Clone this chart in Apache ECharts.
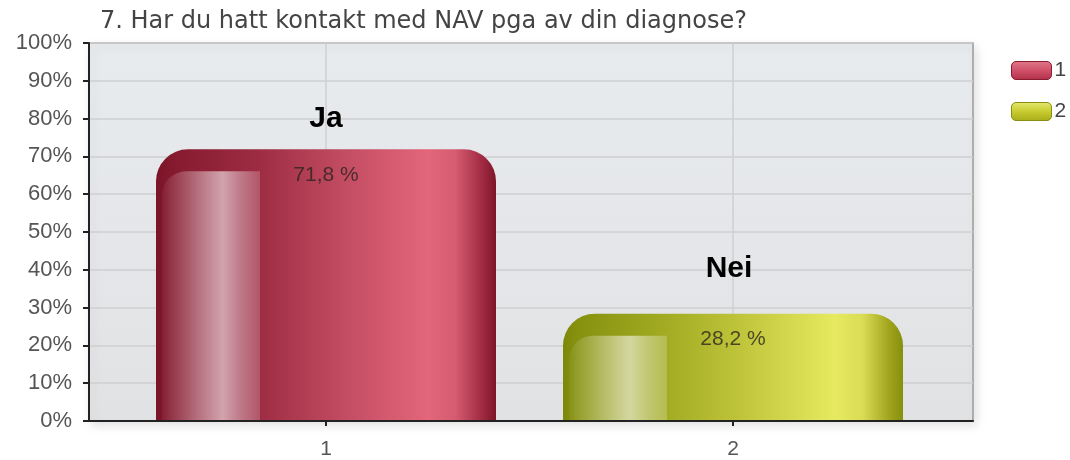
<!DOCTYPE html>
<html>
<head>
<meta charset="utf-8">
<script src="https://cdn.jsdelivr.net/npm/echarts@6/dist/echarts.min.js"></script>
<style>
  html, body { margin: 0; padding: 0; background: #fff; }
  #chart { width: 1070px; height: 460px; }
</style>
</head>
<body>
<div id="chart"></div>
<script>
  // data
  const title = '7. Har du hatt kontakt med NAV pga av din diagnose?';
  const categories = ['1', '2'];
  const values = [71.8, 28.2];
  const answers = ['Ja', 'Nei'];
  const yTicks = [0, 10, 20, 30, 40, 50, 60, 70, 80, 90, 100];

  const font = 'Liberation Sans, Arial, sans-serif';
  const barW = 340;

  // bar fills (left -> right)
  function grad(stops) {
    return new echarts.graphic.LinearGradient(0, 0, 1, 0,
      stops.map(s => ({ offset: s[0], color: s[1] })));
  }
  const fills = [
    grad([[0, '#7a1428'], [0.04, '#84192e'], [0.3, '#9d2c43'], [0.55, '#c24c62'],
          [0.8, '#e3667b'], [0.88, '#d55c71'], [0.96, '#a02a42'], [1, '#7c1629']]),
    grad([[0, '#7d880a'], [0.04, '#86910f'], [0.3, '#a2ab22'], [0.55, '#c3c83e'],
          [0.8, '#e6ea5f'], [0.88, '#dadd55'], [0.96, '#a0a41c'], [1, '#868f0e']])
  ];
  const legendFills = [
    new echarts.graphic.LinearGradient(0, 0, 0, 1, [
      { offset: 0, color: '#e07888' }, { offset: 0.5, color: '#d0506a' }, { offset: 1, color: '#b03048' }]),
    new echarts.graphic.LinearGradient(0, 0, 0, 1, [
      { offset: 0, color: '#e6e870' }, { offset: 0.5, color: '#c8cc30' }, { offset: 1, color: '#a8ac18' }])
  ];
  const answerGap = [16, 30];

  const chart = echarts.init(document.getElementById('chart'));

  const barSeries = categories.map((c, i) => ({
    name: c,
    type: 'bar',
    xAxisIndex: 1,
    yAxisIndex: 1,
    barWidth: barW,
    barGap: '-100%',
    clip: false,
    z: 3,
    data: categories.map((cc, j) => (j === i ? values[j] : '-')),
    itemStyle: {
      color: fills[i],
      borderRadius: [32, 32, 0, 0]
    },
    label: {
      show: true,
      position: 'insideTop',
      distance: 15,
      formatter: p => String(p.value).replace('.', ',') + ' %',
      color: 'rgba(40,35,30,0.78)',
      fontFamily: font,
      fontSize: 21
    }
  }));

  // gloss strip + answer labels
  const glossSeries = {
    type: 'custom',
    xAxisIndex: 1,
    yAxisIndex: 1,
    z: 4,
    silent: true,
    clip: false,
    data: values.map((v, i) => [i, v]),
    renderItem: function (params, api) {
      const i = api.value(0);
      const top = api.coord([i, api.value(1)]);
      const base = api.coord([i, 0]);
      const gx = top[0] - 164;
      const gy = top[1] + 22;
      return {
        type: 'group',
        children: [
          {
            type: 'rect',
            shape: { x: gx, y: gy, width: 98, height: base[1] - gy, r: [24, 0, 0, 0] },
            style: {
              fill: new echarts.graphic.LinearGradient(0, 0, 1, 0, [
                { offset: 0, color: 'rgba(255,255,255,0.04)' },
                { offset: 0.62, color: 'rgba(255,255,255,0.58)' },
                { offset: 0.8, color: 'rgba(255,255,255,0.38)' },
                { offset: 1, color: 'rgba(255,255,255,0.2)' }
              ])
            }
          },
          {
            type: 'text',
            style: {
              text: answers[i],
              x: top[0] + (i === 0 ? 0 : -4),
              y: top[1] - answerGap[i],
              align: 'center',
              verticalAlign: 'bottom',
              fill: '#000',
              font: 'bold 30px ' + font
            }
          }
        ]
      };
    }
  };

  const option = {
    animation: false,
    title: {
      text: title,
      left: 95,
      top: 5,
      textStyle: { color: '#444', fontFamily: 'DejaVu Sans, sans-serif', fontSize: 24, fontWeight: 'normal' }
    },
    legend: {
      orient: 'vertical',
      left: 1006,
      top: 55,
      itemWidth: 40,
      itemHeight: 18,
      itemGap: 20,
      icon: 'roundRect',
      textStyle: { color: '#444', fontFamily: font, fontSize: 21, padding: [0, 0, 0, -2] },
      data: categories.map((c, i) => ({
        name: c,
        itemStyle: { color: legendFills[i], borderColor: i === 0 ? '#8a1c30' : '#8a8e10', borderWidth: 1 }
      }))
    },
    grid: [
      {
        left: 89, right: 97, top: 43, bottom: 39,
        show: true,
        backgroundColor: new echarts.graphic.LinearGradient(0, 0, 0, 1, [
          { offset: 0, color: '#e8ebee' }, { offset: 1, color: '#e1e2e4' }]),
        borderColor: '#9a9a9a',
        borderWidth: 1.5,
        shadowBlur: 10,
        shadowColor: 'rgba(0,0,0,0.12)',
        shadowOffsetX: 3,
        shadowOffsetY: 4
      },
      { left: 326, right: 337, top: 43, bottom: 39 }
    ],
    xAxis: [
      {
        gridIndex: 0,
        type: 'category',
        data: [''],
        axisLine: { lineStyle: { color: '#222', width: 2 } },
        axisTick: { show: false },
        axisLabel: { show: false },
        splitLine: { show: false }
      },
      {
        gridIndex: 1,
        type: 'category',
        boundaryGap: false,
        data: categories,
        axisLine: { show: false },
        axisTick: { show: true, length: 6, lineStyle: { color: '#222', width: 2 } },
        axisLabel: { color: '#555', fontFamily: font, fontSize: 21, margin: 19 },
        splitLine: { show: true, lineStyle: { color: '#cfcfd1', width: 1.5 } }
      }
    ],
    yAxis: [
      {
        gridIndex: 0,
        type: 'value',
        min: yTicks[0],
        max: yTicks[yTicks.length - 1],
        interval: 10,
        axisLine: { show: true, lineStyle: { color: '#222', width: 2 } },
        axisTick: { show: true, length: 6, lineStyle: { color: '#222', width: 2 } },
        axisLabel: { color: '#555', fontFamily: font, fontSize: 22, margin: 17, formatter: '{value}%' },
        splitLine: { show: true, lineStyle: { color: '#cfcfd1', width: 1.5 } }
      },
      {
        gridIndex: 1,
        type: 'value',
        min: yTicks[0],
        max: yTicks[yTicks.length - 1],
        show: false
      }
    ],
    series: barSeries.concat([glossSeries])
  };

  chart.setOption(option);
</script>
</body>
</html>
